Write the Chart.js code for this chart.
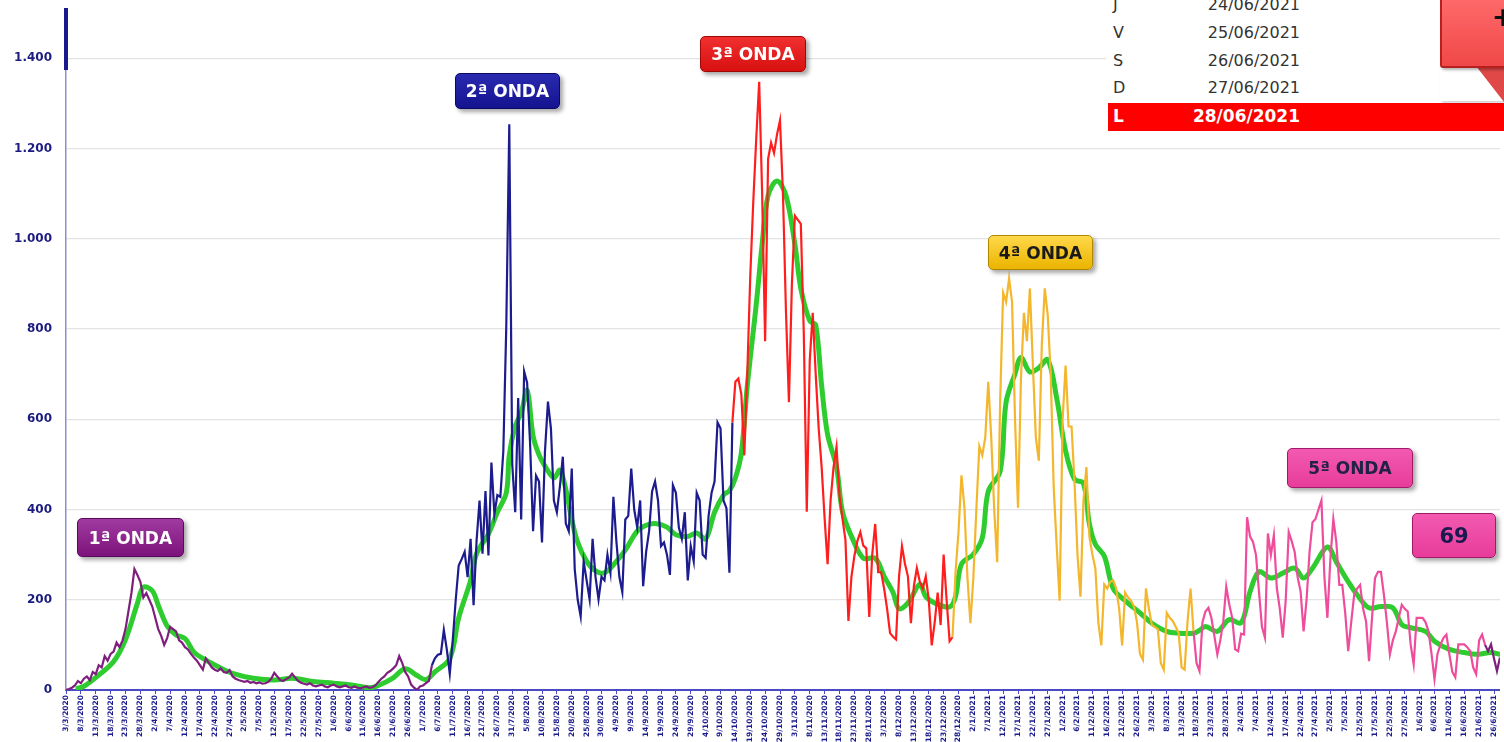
<!DOCTYPE html>
<html>
<head>
<meta charset="utf-8">
<script src="https://cdn.jsdelivr.net/npm/chart.js@4.4.1/dist/chart.umd.min.js"></script>
<style>
html,body{margin:0;padding:0;background:#fff;}
#wrap{position:relative;width:1504px;height:742px;overflow:hidden;background:#fff;}
canvas{position:absolute;left:0;top:-8px;}
.wave{position:absolute;box-sizing:border-box;border-radius:5px;font-family:'DejaVu Sans',sans-serif;font-weight:bold;font-size:17px;display:flex;align-items:center;justify-content:center;box-shadow:3px 3px 4px rgba(0,0,0,0.35);white-space:nowrap;}
.row{position:absolute;left:1108px;width:396px;height:27px;line-height:27px;font-family:'DejaVu Sans',sans-serif;font-size:16px;color:#333;}
.row .d{position:absolute;left:5px;}
.row .t{position:absolute;right:204px;}
</style>
</head>
<body>
<div id="wrap">
<canvas id="c" width="1504" height="752"></canvas>

<div style="position:absolute;left:64px;top:8px;width:4px;height:62px;background:#1a1a8c;"></div>

<div class="wave" style="left:77px;top:518px;width:107px;height:39px;background:linear-gradient(#a03aa0,#7c137c);border:1px solid #5a0a5a;color:#fff;">1ª ONDA</div>
<div class="wave" style="left:455px;top:73px;width:105px;height:36px;background:linear-gradient(#2a2ab0,#141490);border:1px solid #0a0a60;color:#fff;">2ª ONDA</div>
<div class="wave" style="left:700px;top:36px;width:106px;height:36px;background:linear-gradient(#f03030,#d81010);border:1px solid #a00808;color:#fff;">3ª ONDA</div>
<div class="wave" style="left:988px;top:235px;width:105px;height:35px;background:linear-gradient(#ffd84a,#eab400);border:1px solid #b08800;color:#1a1a1a;">4ª ONDA</div>
<div class="wave" style="left:1287px;top:448px;width:126px;height:40px;background:linear-gradient(#f25ab0,#e83c9a);border:1px solid #a01a68;color:#222244;">5ª ONDA</div>
<div class="wave" style="left:1412px;top:513px;width:84px;height:45px;background:linear-gradient(#f25ab0,#e83c9a);border:1px solid #a01a68;color:#1a1a50;font-size:21px;">69</div>

<div style="position:absolute;left:1106px;top:0;width:334px;height:103px;background:#fff;"></div>
<div class="row" style="top:-9px;"><span class="d">J</span><span class="t">24/06/2021</span></div>
<div class="row" style="top:19px;"><span class="d">V</span><span class="t">25/06/2021</span></div>
<div class="row" style="top:47px;"><span class="d">S</span><span class="t">26/06/2021</span></div>
<div class="row" style="top:74px;"><span class="d">D</span><span class="t">27/06/2021</span></div>
<div class="row" style="top:103px;height:28px;background:#ff0000;color:#fff;font-weight:bold;font-size:17px;"><span class="d">L</span><span class="t">28/06/2021</span></div>

<div style="position:absolute;left:1440px;top:70px;width:64px;height:31px;background:#fff;box-shadow:2px 2px 3px rgba(0,0,0,0.2);"></div>
<div style="position:absolute;left:1476px;top:66px;width:0;height:0;border-left:28px solid transparent;border-top:36px solid #e04848;"></div>
<div style="position:absolute;left:1440px;top:-4px;width:70px;height:72px;box-sizing:border-box;background:linear-gradient(#ff6a6a,#f04848);border:2px solid #b82020;border-radius:3px;box-shadow:2px 2px 3px rgba(0,0,0,0.3);"></div>
<div style="position:absolute;left:1492px;top:2px;font-family:'DejaVu Sans',sans-serif;font-weight:bold;font-size:26px;color:#111;">+</div>
</div>

<script>
// ---- data ----
const START_DATE = [2020, 3, 3];   // first day (3/3/2020)
const DAY_COUNT = 483;             // through 28/06/2021

const dailyCases = [
 0,2,5,10,20,15,25,30,22,40,
 35,55,50,75,65,80,85,105,95,110,
 135,175,215,268,255,240,205,215,200,185,
 160,135,120,100,115,140,135,130,110,105,
 95,90,80,72,65,55,45,70,60,50,
 45,42,48,40,38,44,30,25,22,20,
 18,20,16,18,15,17,14,15,18,25,
 38,30,22,20,24,28,36,28,20,16,
 14,12,15,10,8,10,12,8,6,10,
 12,8,6,8,10,6,5,8,5,4,
 6,8,5,6,10,18,25,30,38,42,
 48,55,75,60,40,30,12,5,0,8,
 10,15,20,
 55,70,78,80,133,90,36,
 110,200,276,290,306,250,335,188,330,420,
 302,441,298,504,390,432,428,529,808,1254,
 500,394,647,378,706,681,546,352,475,462,
 327,529,639,580,420,394,450,517,369,352,
 491,268,200,163,285,243,201,335,250,201,
 251,243,300,260,428,330,251,217,378,386,
 491,400,361,420,230,306,352,440,462,420,
 319,327,300,255,454,437,360,335,394,243,
 319,285,437,420,300,293,386,437,462,593,
 580,420,403,260,
 593,683,690,656,520,700,
 916,1080,1220,1348,1100,773,1177,1213,1190,1231,
 1262,1100,840,638,900,1051,1042,1033,790,395,
 730,836,700,580,494,380,279,420,494,539,
 431,380,332,153,250,297,330,350,320,314,
 162,300,368,261,261,225,180,126,118,112,
 250,319,280,252,148,230,270,240,225,252,
 200,99,150,216,144,300,200,108,
 117,261,
 350,476,404,250,148,250,400,540,520,560,
 683,560,400,283,640,880,860,912,860,600,
 404,692,836,773,890,720,560,508,764,890,
 830,700,449,320,198,600,719,584,584,460,
 300,207,420,494,340,300,270,150,99,234,
 225,240,243,225,180,99,216,205,198,185,
 150,80,67,225,180,144,140,135,60,45,
 171,160,153,140,126,50,45,153,225,
 130,
 60,42,150,174,182,160,120,79,110,152,
 229,190,160,90,86,125,123,383,340,328,
 299,218,140,116,347,299,343,226,180,116,
 200,350,330,306,250,218,130,200,306,372,
 379,400,420,250,160,290,379,328,233,233,
 170,86,150,211,225,233,180,152,64,160,
 248,262,262,211,150,79,110,130,160,189,
 180,174,100,57,160,160,160,150,130,80,
 24,80,101,115,123,79,40,28,101,101,
 101,95,86,50,35,110,123,100,86,101,
 70,42,72
];

// 7-day average, read at selected days (day index from start)
const avgDay = [4,6,11,16,20,24,26,29,31,34,37,40,43,46,51,56,63,70,76,83,90,96,102,105,110,114,118,121,124,129,
 132,136,138,142,145,148,149,151,153,155,157,159,161,164,166,168,170,172,175,178,181,185,188,192,195,198,202,205,209,212,
 215,218,221,223,225,227,229,232,234,236,239,242,245,247,250,252,254,256,259,261,264,268,272,275,278,280,283,287,289,292,
 297,299,301,305,308,310,314,316,319,321,324,327,330,333,336,339,342,344,346,349,352,356,361,365,370,374,379,381,383,387,
 391,395,398,401,405,409,413,416,419,424,427,431,434,438,442,446,449,452,457,460,465,470,474,479,482];
const avgValue = [4,8,33,63,112,192,228,220,188,142,122,114,84,70,52,37,26,22,26,19,15,11,5,10,27,47,32,23,40,70,
 160,243,302,346,394,437,520,585,614,664,563,521,496,470,487,445,378,327,285,264,260,285,310,352,365,369,361,344,340,348,
 335,394,432,442,470,525,674,854,988,1096,1128,1096,988,890,818,809,674,566,494,395,341,292,292,252,216,180,193,234,207,193,
 184,207,279,301,337,440,485,638,701,737,705,714,732,647,530,467,458,368,323,297,225,198,171,148,130,126,126,132,141,130,
 156,149,218,262,248,259,270,248,270,317,284,240,211,182,185,182,145,138,130,108,90,83,79,83,79];

// waves: first day index of each colour segment
const waveStart = [0, 123, 224, 298, 379, 477];
const waveColor = ['#7e1f7e', '#1c1c8e', '#ff1e1e', '#f4b62c', '#ee4d9b', '#7e1f7e'];

const yTicks = [0, 200, 400, 600, 800, 1000, 1200, 1400];
const xTickEvery = 5;

// ---- labels ----
const dateLabels = [];
for (let i = 0; i < DAY_COUNT; i++) {
  const d = new Date(Date.UTC(START_DATE[0], START_DATE[1] - 1, START_DATE[2] + i));
  dateLabels.push(d.getUTCDate() + '/' + (d.getUTCMonth() + 1) + '/' + d.getUTCFullYear());
}

function waveColorAt(i) {
  let c = waveColor[0];
  for (let k = 0; k < waveStart.length; k++) if (i >= waveStart[k]) c = waveColor[k];
  return c;
}
function fmt(v) { return String(v).replace(/\B(?=(\d{3})+(?!\d))/g, '.'); }

const rawPts = dailyCases.map((v, i) => ({x: i, y: v}));
const avgPts = avgDay.map((d, k) => ({x: d, y: avgValue[k]}));

new Chart(document.getElementById('c'), {
  type: 'line',
  data: {
    datasets: [
      {
        data: rawPts,
        borderWidth: 2.2,
        pointRadius: 0,
        tension: 0,
        borderColor: waveColor[0],
        segment: { borderColor: ctx => waveColorAt(ctx.p0DataIndex) }
      },
      {
        data: avgPts,
        borderWidth: 5,
        pointRadius: 0,
        tension: 0.35,
        borderColor: '#2ecc2e',
        borderCapStyle: 'round',
        borderJoinStyle: 'round'
      }
    ]
  },
  options: {
    responsive: false,
    animation: false,
    events: [],
    layout: { padding: { top: 0, right: 0, left: 0, bottom: 0 } },
    plugins: { legend: { display: false }, tooltip: { enabled: false } },
    scales: {
      x: {
        type: 'linear',
        min: 0,
        max: DAY_COUNT - 1,
        afterBuildTicks: s => {
          const t = [];
          for (let i = 0; i < DAY_COUNT; i += xTickEvery) t.push({value: i});
          s.ticks = t;
        },
        afterFit: s => { s.height = 54; },
        grid: { drawOnChartArea: false, drawTicks: true, tickLength: 4, color: '#4a4ac4', lineWidth: 1 },
        border: { color: '#4a4ac4', width: 2 },
        ticks: {
          autoSkip: false,
          maxRotation: 90,
          minRotation: 90,
          padding: 1,
          font: { family: 'DejaVu Sans', size: 7.5, weight: 'bold' },
          color: '#1c1c8e',
          callback: v => dateLabels[v]
        }
      },
      y: {
        min: 0,
        max: 1500,
        afterBuildTicks: s => { s.ticks = yTicks.map(v => ({value: v})); },
        afterFit: s => { s.width = 66; },
        grid: { color: '#e3e3e3', lineWidth: 1.3, drawTicks: false },
        border: { color: '#8c8cd2', width: 1.5 },
        ticks: {
          padding: 14,
          font: { family: 'DejaVu Sans', size: 12, weight: 'bold' },
          color: '#1c1c80',
          callback: v => fmt(v)
        }
      }
    }
  }
});
</script>
</body>
</html>
